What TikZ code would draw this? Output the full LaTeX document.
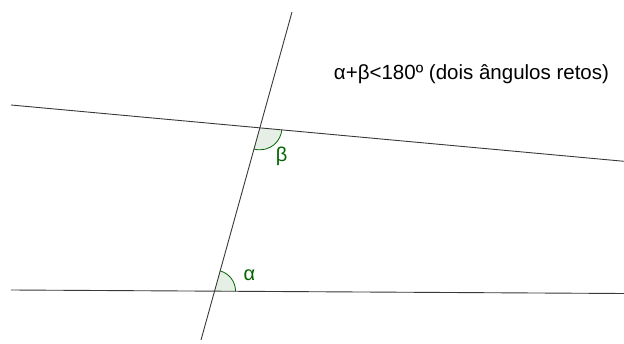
\documentclass[tikz,border=0pt]{standalone}
\usepackage{fontspec}
\setmainfont{Liberation Sans}
\usetikzlibrary{calc}
\definecolor{ggreen}{RGB}{0,100,0}
\begin{document}
\begin{tikzpicture}[x=1pt,y=1pt,
  lineobj/.style={draw=black!78, line width=0.9pt},
  anglearc/.style={draw=ggreen, line width=0.8pt},
  anglefill/.style={fill=ggreen, fill opacity=0.1},
  lbl/.style={text=ggreen, font=\fontsize{20}{24}\selectfont, inner sep=0pt, anchor=base},
  titletext/.style={text=black, font=\fontsize{20.5}{24}\selectfont, inner sep=0pt, anchor=base}]
\useasboundingbox (0,0) rectangle (624,343);
\coordinate (L1a) at (11,238);
\coordinate (L1b) at (624,181.7);
\coordinate (L2a) at (11,53);
\coordinate (L2b) at (624,49.5);
\coordinate (Ta) at (292,331);
\coordinate (Tb) at (201,3);
\coordinate (B) at (intersection of L1a--L1b and Ta--Tb);
\coordinate (A) at (intersection of L2a--L2b and Ta--Tb);
% angle beta
\fill[anglefill] (B) -- ($(B)+(-105.5:22)$) arc[start angle=-105.5, end angle=-5.22, radius=22] -- cycle;
\draw[anglearc] ($(B)+(-105.5:22)$) arc[start angle=-105.5, end angle=-5.22, radius=22];
% angle alpha
\fill[anglefill] (A) -- ($(A)+(-0.33:21)$) arc[start angle=-0.33, end angle=74.5, radius=21] -- cycle;
\draw[anglearc] ($(A)+(-0.33:21)$) arc[start angle=-0.33, end angle=74.5, radius=21];
% lines
\draw[lineobj] (L1a) -- (L1b);
\draw[lineobj] (L2a) -- (L2b);
\draw[lineobj] (Ta) -- (Tb);
% labels
\node[lbl] (beta) at (281.5,181) {β};
\node[lbl] (alpha) at (249.5,63) {α};
\node[titletext] (title) at (471.5,263) {α+β<180º (dois ângulos retos)};
\end{tikzpicture}
\end{document}
